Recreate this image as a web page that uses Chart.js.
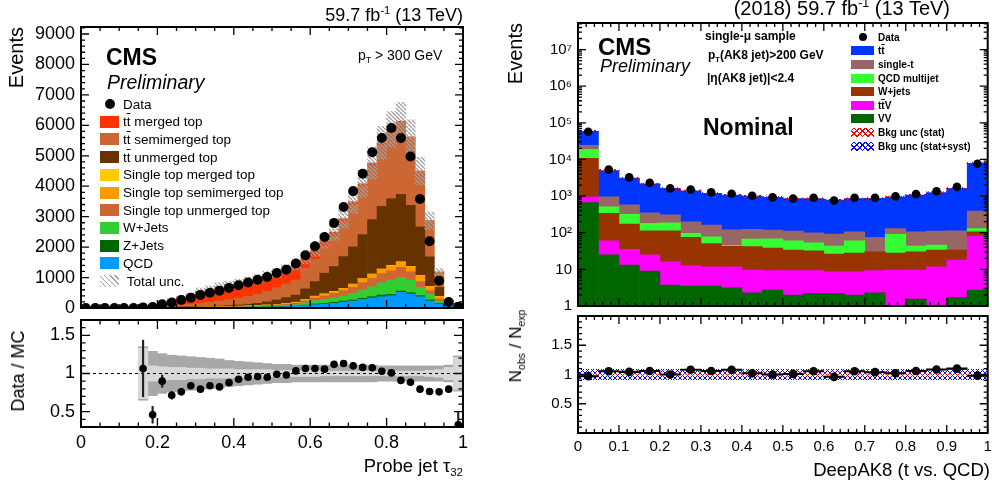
<!DOCTYPE html>
<html>
<head>
<meta charset="utf-8">
<script src="https://cdn.jsdelivr.net/npm/chart.js@4.4.1/dist/chart.umd.min.js"></script>
<style>
  body { margin: 0; background: #fff; }
  #page { position: relative; width: 992px; height: 483px; overflow: hidden; font-family: "Liberation Sans", Arial, Helvetica, sans-serif; color: #000; }
  canvas { position: absolute; }
  .t { position: absolute; white-space: nowrap; line-height: 1.15; z-index: 2; }
  .sp { font-size: 62%; position: relative; top: -0.65em; }
  .sb { font-size: 62%; position: relative; top: 0.35em; }
  .ov { text-decoration: overline; }
  .rot { transform-origin: 0 0; }
  .row { position: absolute; display: flex; align-items: center; white-space: nowrap; z-index: 2; }
  .sw { display: inline-block; flex: none; }
  .dot { display: inline-block; border-radius: 50%; background: #000; flex: none; }
</style>
</head>
<body>
<div id="page">
  <canvas id="lm" width="475" height="316" style="left:0;top:0"></canvas>
  <canvas id="lr" width="475" height="171" style="left:0;top:312px"></canvas>
  <canvas id="rm" width="502" height="316" style="left:490px;top:0"></canvas>
  <canvas id="rr" width="502" height="175" style="left:490px;top:308px"></canvas>

  <!-- left panel text -->
  <div class="t" style="right:529px;top:5px;font-size:18px">59.7 fb<span class="sp">-1</span> (13 TeV)</div>
  <div class="t" style="left:106px;top:44px;font-size:23px;font-weight:bold">CMS</div>
  <div class="t" style="left:107px;top:71px;font-size:19.5px;font-style:italic">Preliminary</div>
  <div class="t" style="left:358px;top:47px;font-size:14px">p<span class="sb">T</span> &gt; 300 GeV</div>
  <div class="t rot" style="left:5px;top:27px;font-size:20px;line-height:22px;transform:rotate(-90deg) translateX(-100%)">Events</div>
  <div class="t rot" style="left:7px;top:371px;font-size:18px;line-height:22px;transform:rotate(-90deg) translateX(-50%)">Data / MC</div>
  <div class="t" style="right:529px;top:455px;font-size:18.5px;line-height:22px">Probe jet τ<span class="sb">32</span></div>
  <div id="legL"></div>

  <!-- right panel text -->
  <div class="t" style="right:42px;top:-3px;font-size:20px">(2018) 59.7 fb<span class="sp">-1</span> (13 TeV)</div>
  <div class="t" style="left:598px;top:33px;font-size:24px;font-weight:bold">CMS</div>
  <div class="t" style="left:600px;top:56px;font-size:18px;font-style:italic">Preliminary</div>
  <div class="t" style="left:705px;top:30px;font-size:12px;font-weight:bold">single-μ sample</div>
  <div class="t" style="left:708px;top:49px;font-size:12px;font-weight:bold">p<span class="sb">T</span>(AK8 jet)&gt;200 GeV</div>
  <div class="t" style="left:707px;top:72px;font-size:12px;font-weight:bold">|η(AK8 jet)|&lt;2.4</div>
  <div class="t" style="left:703px;top:114px;font-size:23px;font-weight:bold">Nominal</div>
  <div class="t rot" style="left:504px;top:23px;font-size:20px;line-height:22px;transform:rotate(-90deg) translateX(-100%)">Events</div>
  <div class="t rot" style="left:505px;top:346px;font-size:17px;line-height:22px;transform:rotate(-90deg) translateX(-50%)">N<span class="sb">obs</span> / N<span class="sb">exp</span></div>
  <div class="t" style="right:2px;top:459px;font-size:18.5px;line-height:22px">DeepAK8 (t vs. QCD)</div>
  <div id="legR"></div>
</div>

<script>
// ---------- left: probe jet tau32, 40 bins of 0.025 ----------
const tauCenters = Array.from({ length: 40 }, (_, i) => 0.0125 + 0.025 * i);

const tauData = [0, 0, 0, 0, 0, 0, 20, 30, 120, 180, 260, 340, 430, 500, 570, 660, 750, 840, 930, 1020,
  1150, 1260, 1460, 1735, 2030, 2335, 2795, 3315, 3840, 4410, 5115, 5585, 5915, 5585, 4975, 3580, 2195, 895, 195, 45];

const tauQCD = [0, 0, 0, 0, 0, 0, 1, 1, 3, 4, 6, 7, 9, 10, 12, 15, 17, 20, 24, 28,
  34, 42, 55, 80, 109, 131, 153, 196, 229, 284, 327, 371, 404, 513, 458, 371, 229, 131, 65, 40];
const tauZJets = [0, 0, 0, 0, 0, 0, 0, 0, 0, 1, 1, 1, 2, 2, 2, 3, 3, 4, 4, 5,
  6, 7, 9, 14, 22, 22, 32, 33, 33, 32, 44, 54, 43, 43, 44, 33, 33, 22, 11, 5];
const tauWJets = [0, 0, 0, 0, 0, 0, 1, 1, 2, 3, 4, 5, 6, 7, 9, 11, 13, 16, 20, 24,
  29, 36, 47, 75, 109, 131, 142, 164, 218, 273, 327, 404, 469, 448, 414, 272, 185, 76, 33, 15];
const tauSTUnmerged = [0, 0, 0, 0, 0, 0, 0, 1, 2, 3, 4, 5, 6, 8, 10, 12, 14, 16, 20, 24,
  29, 36, 45, 62, 87, 109, 153, 174, 196, 240, 273, 306, 306, 327, 273, 186, 120, 66, 44, 20];
const tauSTSemimerged = [0, 0, 0, 0, 0, 0, 0, 1, 2, 3, 4, 5, 5, 6, 7, 9, 10, 11, 13, 15,
  18, 24, 28, 38, 55, 65, 55, 66, 99, 120, 131, 131, 164, 174, 164, 196, 131, 76, 40, 15];
const tauSTMerged = [0, 0, 0, 0, 0, 0, 0, 0, 1, 1, 1, 1, 2, 2, 2, 2, 3, 3, 4, 4,
  4, 5, 6, 8, 8, 8, 10, 10, 12, 15, 15, 15, 15, 15, 10, 10, 10, 10, 2, 0];
const tauTTUnmerged = [0, 0, 0, 0, 0, 0, 1, 2, 4, 8, 12, 16, 20, 22, 23, 30, 38, 55, 68, 100,
  142, 190, 235, 350, 480, 677, 818, 1047, 1220, 1447, 1785, 2057, 2188, 2211, 2008, 1594, 972, 295, 40, 25];
const tauTTSemimerged = [0, 0, 0, 0, 0, 0, 2, 6, 15, 30, 66, 85, 103, 133, 164, 190, 218, 255, 294, 350,
  403, 450, 491, 671, 733, 846, 991, 1115, 1364, 1570, 1758, 2015, 2217, 2367, 2230, 1828, 1187, 502, 12, 13];
const tauTTMerged = [0, 0, 0, 0, 0, 0, 14, 53, 104, 201, 244, 280, 391, 412, 466, 470, 499, 504, 512, 524,
  485, 483, 488, 330, 300, 220, 140, 130, 120, 100, 100, 70, 60, 40, 20, 10, 0, 0, 0, 0];

// relative uncertainties (half widths of the ratio bands)
const tauTotUnc = [0, 0, 0, 0, 0, 0, 0.35, 0.29, 0.26, 0.24, 0.23, 0.22, 0.21, 0.2, 0.19, 0.17, 0.16, 0.15, 0.14, 0.13,
  0.12, 0.12, 0.11, 0.11, 0.11, 0.11, 0.11, 0.11, 0.11, 0.11, 0.11, 0.1, 0.1, 0.1, 0.1, 0.1, 0.1, 0.1, 0.11, 0.23];
const tauStatUnc = [0, 0, 0, 0, 0, 0, 0.33, 0.1, 0.09, 0.08, 0.08, 0.07, 0.07, 0.06, 0.06, 0.06, 0.05, 0.05, 0.05, 0.05,
  0.04, 0.04, 0.04, 0.04, 0.04, 0.03, 0.03, 0.03, 0.03, 0.03, 0.03, 0.03, 0.03, 0.03, 0.03, 0.03, 0.04, 0.05, 0.08, 0.21];

const tauRatio = [null, null, null, null, null, null, 1.066, 0.46, 0.90, 0.715, 0.76, 0.84, 0.795, 0.84, 0.825, 0.88,
  0.925, 0.95, 0.96, 0.95, 0.99, 0.98, 1.034, 1.066, 1.066, 1.057, 1.12, 1.13, 1.10, 1.08, 1.075, 1.03, 1.008,
  0.91, 0.885, 0.795, 0.765, 0.76, 0.795, 0.33];
const tauRatioErr = [null, null, null, null, null, null, 0.37, 0.11, 0.08, 0.05, 0.04, 0.03, 0.03, 0.03, 0.02, 0.02,
  0.02, 0.02, 0.02, 0.02, 0.02, 0.02, 0.02, 0.02, 0.02, 0.02, 0.02, 0.02, 0.02, 0.02, 0.02, 0.02, 0.02,
  0.02, 0.02, 0.02, 0.02, 0.02, 0.03, 0.17];

const tauRange = [0, 9230];        // y range of main pad
const tauYTicks = [0, 1000, 2000, 3000, 4000, 5000, 6000, 7000, 8000, 9000];
const tauRatioRange = [0.3, 1.7];
const ratioTickLabels = [0.5, 1, 1.5];

// ---------- right: DeepAK8 score, 20 bins of 0.05 ----------
const dakCenters = Array.from({ length: 20 }, (_, i) => 0.025 + 0.05 * i);

const dakData = [57200, 5280, 3240, 2300, 1620, 1510, 1260, 1160, 1020, 920, 860, 900, 750, 900, 905, 980, 1130, 1360, 1780, 7640];
const dakVV = [660, 25, 13, 9, 3.7, 3.5, 3.5, 3.2, 2.3, 2.7, 2.0, 2.2, 2.2, 2.0, 2.3, 0.8, 1.55, 0.9, 1.7, 2.7];
const dakTTV = [300, 35, 22, 16, 12.3, 9.1, 8.3, 8.6, 7.3, 6.5, 7.2, 7.0, 6.4, 6.6, 6.9, 8.8, 8.05, 10.9, 16.3, 78];
const dakWJets = [9740, 278, 138, 88, 97, 62, 39, 31, 32, 29, 24.4, 22.8, 17.4, 19.4, 20.8, 18.4, 20.4, 21.8, 15.6, 25];
const dakQCD = [8000, 174, 143, 67, 73, 21, 27, 2, 25.5, 30, 26.4, 21, 17, 32, 0, 62, 13, 12.4, 0, 24];
const dakSingleT = [5300, 448, 262, 170, 124, 104, 84, 75, 56, 50, 51, 47, 49, 46, 44, 40, 63, 65, 79.4, 260];
const dakTT = [35000, 4040, 2522, 1820, 1310, 1200, 1028, 950, 877, 802, 739, 750, 688, 744, 796, 830, 964, 1139, 1507, 7410];

const dakRatio = [0.97, 1.056, 1.045, 1.06, 1.0, 1.08, 1.06, 1.08, 1.02, 1.0, 1.01, 1.056, 0.96, 1.056, 1.04, 1.02, 1.06, 1.085, 1.1, 0.98];
const dakSystRel = [0.09, 0.09, 0.09, 0.09, 0.09, 0.09, 0.09, 0.09, 0.09, 0.09, 0.09, 0.09, 0.09, 0.09, 0.09, 0.09, 0.09, 0.09, 0.09, 0.09];
const dakStatRel = [0.01, 0.02, 0.02, 0.02, 0.025, 0.025, 0.025, 0.025, 0.025, 0.03, 0.03, 0.03, 0.03, 0.03, 0.03, 0.03, 0.03, 0.025, 0.025, 0.015];

const logTickValues = [1, 10, 100, 1e3, 1e4, 1e5, 1e6, 1e7];
const logTickLabels = ['1', '10', '10²', '10³', '10⁴', '10⁵', '10⁶', '10⁷'];
const dakRange = [1, 5.3e7];
const dakRatioRange = [0, 2];

// ---------- helpers ----------
const FONT = '"Liberation Sans", Arial, Helvetica, sans-serif';

function pts(xs, ys) { return ys.map((y, i) => ({ x: xs[i], y: y })); }
function sumOf(arrays) { return arrays[0].map((_, i) => arrays.reduce((s, a) => s + a[i], 0)); }
function band(xs, centre, rel) {
  const out = [];
  xs.forEach((x, i) => { if (rel[i] > 0 && centre[i] > 0) out.push({ x: x, y: [centre[i] * (1 - rel[i]), centre[i] * (1 + rel[i])] }); });
  return out;
}
function around(xs, vals, half) {
  const out = [];
  xs.forEach((x, i) => { if (vals[i] != null) out.push({ x: x, y: [vals[i] - half[i], vals[i] + half[i]] }); });
  return out;
}

function hatch(color, lw, gap, cross) {
  const c = document.createElement('canvas');
  c.width = gap; c.height = gap;
  const g = c.getContext('2d');
  g.strokeStyle = color;
  g.lineWidth = lw;
  g.beginPath();
  for (let k = -1; k <= 1; k++) {
    g.moveTo(k * gap, 0); g.lineTo(k * gap + gap, gap);
    if (cross) { g.moveTo(k * gap, gap); g.lineTo(k * gap + gap, 0); }
  }
  g.stroke();
  return g.createPattern(c, 'repeat');
}

// ROOT style frame with inward ticks on all four sides
const rootFrame = {
  id: 'rootFrame',
  afterDatasetsDraw(chart, args, o) {
    const { ctx, chartArea: a, scales: { x, y } } = chart;
    ctx.save();
    ctx.strokeStyle = '#000';
    ctx.lineWidth = 1.3;
    ctx.beginPath();
    const n = Math.round((x.max - x.min) / o.xMinor);
    for (let i = 0; i <= n; i++) {
      const v = x.min + i * o.xMinor;
      const len = Math.abs(v / o.xMajor - Math.round(v / o.xMajor)) < 1e-6 ? o.major : o.minor;
      const px = x.getPixelForValue(v);
      ctx.moveTo(px, a.bottom); ctx.lineTo(px, a.bottom - len);
      ctx.moveTo(px, a.top); ctx.lineTo(px, a.top + len);
    }
    const yv = [];
    if (o.log) {
      for (let k = 0; k < 8; k++) for (let m = 1; m < 10; m++) {
        const v = m * Math.pow(10, k);
        if (v <= y.max) yv.push([v, m === 1]);
      }
    } else {
      const s = Math.ceil(y.min / o.yMinor - 1e-6);
      const e = Math.floor(y.max / o.yMinor + 1e-6);
      for (let i = s; i <= e; i++) {
        const v = i * o.yMinor;
        yv.push([v, Math.abs(v / o.yMajor - Math.round(v / o.yMajor)) < 1e-6]);
      }
    }
    yv.forEach(([v, maj]) => {
      const len = maj ? o.major : o.minor;
      const py = y.getPixelForValue(v);
      ctx.moveTo(a.left, py); ctx.lineTo(a.left + len, py);
      ctx.moveTo(a.right, py); ctx.lineTo(a.right - len, py);
    });
    ctx.stroke();
    ctx.lineWidth = 2;
    ctx.strokeRect(a.left, a.top, a.right - a.left, a.bottom - a.top);
    ctx.restore();
  }
};

function baseOptions(padding) {
  return {
    responsive: false,
    animation: false,
    events: [],
    layout: { padding: padding },
    datasets: { bar: { barPercentage: 1, categoryPercentage: 1, borderWidth: 0 } },
    plugins: { legend: { display: false }, tooltip: { enabled: false } }
  };
}
function yAxis(width, size, tickValues) {
  return {
    grid: { display: false, drawTicks: false },
    border: { display: false },
    afterFit: s => { s.width = width; s.paddingTop = 0; s.paddingBottom = 0; },
    afterBuildTicks: s => { s.ticks = tickValues.map(v => ({ value: v })); },
    ticks: { autoSkip: false, padding: 6, color: '#000', font: { family: FONT, size: size }, callback: v => String(v) }
  };
}
function xAxis(height, size, step) {
  return {
    type: 'linear', min: 0, max: 1, offset: false, stacked: true,
    grid: { display: false, drawTicks: false, offset: false },
    border: { display: false },
    afterFit: s => { s.height = height; s.paddingLeft = 0; s.paddingRight = 0; },
    ticks: { stepSize: step, autoSkip: false, maxRotation: 0, padding: 5, color: '#000', font: { family: FONT, size: size },
      callback: v => String(Math.round(v * 100) / 100) }
  };
}

// ---------- left main ----------
const tauStack = [
  { label: 'QCD', values: tauQCD, color: '#0099ff' },
  { label: 'Z+Jets', values: tauZJets, color: '#006600' },
  { label: 'W+Jets', values: tauWJets, color: '#33cc33' },
  { label: 'Single top unmerged top', values: tauSTUnmerged, color: '#cc6633' },
  { label: 'Single top semimerged top', values: tauSTSemimerged, color: '#ff9900' },
  { label: 'Single top merged top', values: tauSTMerged, color: '#ffcc00' },
  { label: 'tt unmerged top', values: tauTTUnmerged, color: '#663300' },
  { label: 'tt semimerged top', values: tauTTSemimerged, color: '#cc6633' },
  { label: 'tt merged top', values: tauTTMerged, color: '#ff3300' }
];
const tauMC = sumOf(tauStack.map(s => s.values));
const greyHatch = hatch('#a0a0a0', 1.3, 4, false);

const lmOpts = baseOptions({ top: 27, right: 12, bottom: 8, left: 0 });
lmOpts.plugins.rootFrame = { xMajor: 0.2, xMinor: 0.05, yMajor: 1000, yMinor: 200, major: 8, minor: 4 };
lmOpts.scales = {
  x: { type: 'linear', min: 0, max: 1, offset: false, stacked: true, display: false },
  y: Object.assign(yAxis(81, 18, tauYTicks), { stacked: true, min: tauRange[0], max: tauRange[1] })
};

new Chart(document.getElementById('lm'), {
  type: 'bar',
  data: {
    datasets: [
      ...tauStack.map(s => ({ label: s.label, data: pts(tauCenters, s.values), backgroundColor: s.color, stack: 'mc' })),
      { label: 'Total unc.', data: band(tauCenters, tauMC, tauTotUnc), backgroundColor: greyHatch, stack: 'unc', grouped: false, order: -1 },
      { type: 'line', label: 'Data', data: pts(tauCenters, tauData), showLine: false, pointRadius: 5,
        pointBackgroundColor: '#000', pointBorderWidth: 0, order: -2 }
    ]
  },
  options: lmOpts,
  plugins: [rootFrame]
});

// ---------- left ratio ----------
const lrOpts = baseOptions({ top: 8, right: 12, bottom: 0, left: 0 });
lrOpts.plugins.rootFrame = { xMajor: 0.2, xMinor: 0.05, yMajor: 0.5, yMinor: 0.1, major: 9, minor: 4.5 };
lrOpts.scales = {
  x: xAxis(56, 18, 0.2),
  y: Object.assign(yAxis(81, 18, ratioTickLabels), { min: tauRatioRange[0], max: tauRatioRange[1] })
};

new Chart(document.getElementById('lr'), {
  type: 'bar',
  data: {
    datasets: [
      { label: 'total', data: around(tauCenters, tauCenters.map((_, i) => tauTotUnc[i] > 0 ? 1 : null), tauTotUnc),
        backgroundColor: '#a8a8a8', grouped: false, order: 3 },
      { label: 'stat', data: around(tauCenters, tauCenters.map((_, i) => tauStatUnc[i] > 0 ? 1 : null), tauStatUnc),
        backgroundColor: '#d8d8d8', grouped: false, order: 2 },
      { type: 'line', label: 'one', data: [{ x: 0, y: 1 }, { x: 1, y: 1 }], borderColor: '#000', borderWidth: 1,
        borderDash: [3, 3], pointRadius: 0, order: 1 },
      { label: 'err', data: around(tauCenters, tauRatio, tauRatioErr), backgroundColor: '#222', grouped: false,
        maxBarThickness: 1.5, order: 0 },
      { type: 'line', label: 'Data/MC', data: pts(tauCenters, tauRatio), showLine: false, pointRadius: 3.8,
        pointBackgroundColor: '#000', pointBorderWidth: 0, order: -1 }
    ]
  },
  options: lrOpts,
  plugins: [rootFrame]
});

// ---------- right main ----------
const dakStack = [
  { label: 'VV', values: dakVV, color: '#006600' },
  { label: 'ttV', values: dakTTV, color: '#ff00ff' },
  { label: 'W+jets', values: dakWJets, color: '#993300' },
  { label: 'QCD multijet', values: dakQCD, color: '#33ff33' },
  { label: 'single-t', values: dakSingleT, color: '#996666' },
  { label: 'tt', values: dakTT, color: '#0036ff' }
];
const dakMC = sumOf(dakStack.map(s => s.values));
const blueX = hatch('#0000ff', 1, 5, true);
const redX = hatch('#ff0000', 1, 5, true);

const rmOpts = baseOptions({ top: 23, right: 2, bottom: 10, left: 0 });
rmOpts.plugins.rootFrame = { xMajor: 0.1, xMinor: 0.02, log: true, major: 8, minor: 4 };
rmOpts.scales = {
  x: { type: 'linear', min: 0, max: 1, offset: false, stacked: true, display: false },
  y: Object.assign(yAxis(88, 15, logTickValues), { type: 'logarithmic', stacked: true, min: dakRange[0], max: dakRange[1] })
};
rmOpts.scales.y.ticks.callback = (v, i) => logTickLabels[i];

new Chart(document.getElementById('rm'), {
  type: 'bar',
  data: {
    datasets: [
      ...dakStack.map(s => ({ label: s.label, data: pts(dakCenters, s.values), backgroundColor: s.color, stack: 'mc' })),
      { label: 'Bkg unc (stat+syst)', data: band(dakCenters, dakMC, dakCenters.map(() => 0.05)), backgroundColor: blueX,
        stack: 'u1', grouped: false, order: -1 },
      { label: 'Bkg unc (stat)', data: band(dakCenters, dakMC, dakCenters.map(() => 0.02)), backgroundColor: redX,
        stack: 'u2', grouped: false, order: -2 },
      { type: 'line', label: 'Data', data: pts(dakCenters, dakData), showLine: false, pointRadius: 4.3,
        pointBackgroundColor: '#000', pointBorderWidth: 0, order: -3 }
    ]
  },
  options: rmOpts,
  plugins: [rootFrame]
});

// ---------- right ratio ----------
const rrOpts = baseOptions({ top: 8, right: 2, bottom: 0, left: 0 });
rrOpts.plugins.rootFrame = { xMajor: 0.1, xMinor: 0.02, yMajor: 0.5, yMinor: 0.1, major: 8, minor: 4 };
rrOpts.scales = {
  x: xAxis(50, 15, 0.1),
  y: Object.assign(yAxis(88, 15, ratioTickLabels), { min: dakRatioRange[0], max: dakRatioRange[1] })
};

new Chart(document.getElementById('rr'), {
  type: 'bar',
  data: {
    datasets: [
      { label: 'stat+syst', data: around(dakCenters, dakCenters.map(() => 1), dakSystRel), backgroundColor: blueX, grouped: false, order: 3 },
      { label: 'stat', data: around(dakCenters, dakCenters.map(() => 1), dakStatRel), backgroundColor: redX, grouped: false, order: 2 },
      { label: 'xerr', data: around(dakCenters, dakRatio, dakCenters.map(() => 0.012)), backgroundColor: '#000', grouped: false, order: 1 },
      { type: 'line', label: 'ratio', data: pts(dakCenters, dakRatio), showLine: false, pointRadius: 4.3,
        pointBackgroundColor: '#000', pointBorderWidth: 0, order: -1 }
    ]
  },
  options: rrOpts,
  plugins: [rootFrame]
});

// ---------- legends (html text) ----------
const greyCss = 'repeating-linear-gradient(45deg, #a0a0a0 0 1.2px, transparent 1.2px 3.6px)';
const crossCss = c => `repeating-linear-gradient(45deg, ${c} 0 1px, transparent 1px 4px), repeating-linear-gradient(-45deg, ${c} 0 1px, transparent 1px 4px)`;
const TT = 't<span class="ov">t</span>';

const legL = [
  { html: 'Data', dot: 5 },
  { html: TT + ' merged top', bg: '#ff3300' },
  { html: TT + ' semimerged top', bg: '#cc6633' },
  { html: TT + ' unmerged top', bg: '#663300' },
  { html: 'Single top merged top', bg: '#ffcc00' },
  { html: 'Single top semimerged top', bg: '#ff9900' },
  { html: 'Single top unmerged top', bg: '#cc6633' },
  { html: 'W+Jets', bg: '#33cc33' },
  { html: 'Z+Jets', bg: '#006600' },
  { html: 'QCD', bg: '#0099ff' },
  { html: '&nbsp;Total unc.', bg: greyCss }
];
const legR = [
  { html: 'Data', dot: 4 },
  { html: TT, bg: '#0036ff' },
  { html: 'single-t', bg: '#996666' },
  { html: 'QCD multijet', bg: '#33ff33' },
  { html: 'W+jets', bg: '#993300' },
  { html: TT + 'V', bg: '#ff00ff' },
  { html: 'VV', bg: '#006600' },
  { html: 'Bkg unc (stat)', bg: crossCss('#ff0000') },
  { html: 'Bkg unc (stat+syst)', bg: crossCss('#0000ff') }
];

function buildLegend(el, items, o) {
  items.forEach((it, i) => {
    const row = document.createElement('div');
    row.className = 'row';
    const cy = o.y0 + o.dy * i;
    row.style.cssText += `left:${o.x}px;top:${cy - 9}px;height:18px;font-size:${o.fs}px;font-weight:${o.bold ? 'bold' : 'normal'}`;
    let mark;
    if (it.dot) {
      mark = `<span style="display:inline-flex;justify-content:center;width:${o.sw}px;flex:none"><span class="dot" style="width:${2 * it.dot}px;height:${2 * it.dot}px"></span></span>`;
    } else {
      mark = `<span class="sw" style="width:${o.sw}px;height:${o.sh}px;background:${it.bg}"></span>`;
    }
    row.innerHTML = mark + `<span style="margin-left:${o.gap}px">${it.html}</span>`;
    el.appendChild(row);
  });
}
buildLegend(document.getElementById('legL'), legL, { x: 100, y0: 104, dy: 17.7, fs: 13.5, sw: 19, sh: 12, gap: 4, bold: false });
buildLegend(document.getElementById('legR'), legR, { x: 851, y0: 37.3, dy: 13.6, fs: 10, sw: 23, sh: 9, gap: 4, bold: true });
</script>
</body>
</html>
